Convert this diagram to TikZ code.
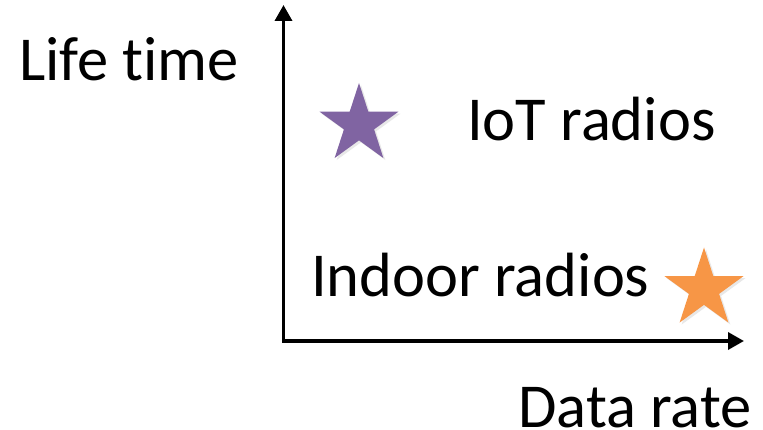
\documentclass[tikz,border=0pt]{standalone}
\usepackage{fontspec}
\setmainfont{Carlito}[RawFeature={-liga;-dlig;-clig}]
\usetikzlibrary{arrows.meta,shapes.geometric,shadows}
\definecolor{starpurple}{HTML}{8064A2}
\definecolor{starorange}{HTML}{F79646}
\tikzset{
  lbl/.style={anchor=base west, inner sep=0pt, font=\fontsize{62.5}{62.5}\selectfont},
  starnode/.style={star, star points=5, star point ratio=2.618, minimum size=83pt, inner sep=0pt, draw=none,
    drop shadow={opacity=0.18, shadow xshift=2pt, shadow yshift=-2pt}},
  axis/.style={line width=3.5pt, line join=miter, {Triangle[length=16pt,width=17pt]}-{Triangle[length=16pt,width=17pt]}}
}
\begin{document}
\begin{tikzpicture}[x=1pt,y=-1pt]
\useasboundingbox (0,0) rectangle (763,430);
\coordinate (origin) at (283.5,341);
\coordinate (ytip) at (283.5,5);
\coordinate (xtip) at (744,341);
\draw[axis] (ytip) -- (origin) -- (xtip);
\node[lbl] (life) at (19,81) {Life time};
\node[lbl] (data) at (518,427) {Data rate};
\node[lbl] (iot) at (467,141) {IoT radios};
\node[lbl] (indoor) at (311,297) {Indoor radios};
\node[starnode, fill=starpurple] (s1) at (359,124.5) {};
\node[starnode, fill=starorange] (s2) at (704,289) {};
\end{tikzpicture}
\end{document}
